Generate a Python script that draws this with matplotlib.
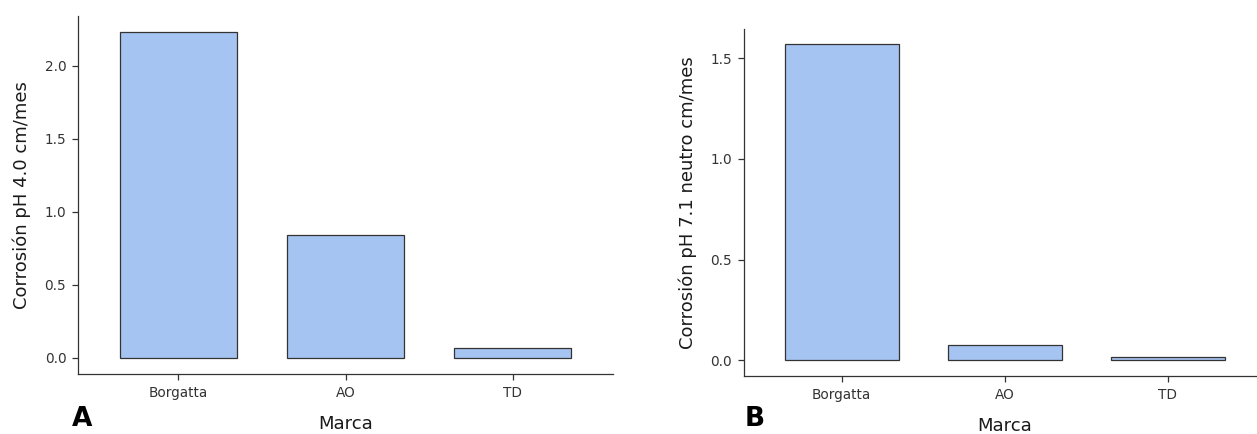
import numpy as np
import matplotlib
matplotlib.use("Agg")
import matplotlib.pyplot as plt

# datos
marcas = ["Borgatta", "AO", "TD"]
corrosion_ph4 = [2.231, 0.840, 0.066]
corrosion_ph7 = [1.569, 0.078, 0.016]

relleno = "#a6c4f1"
borde = "#333333"

plt.rcParams["font.family"] = "DejaVu Sans"

fig = plt.figure(figsize=(12.57, 4.34), dpi=100)

def panel(pos, valores, ylab, ticks, letra, xletra):
	ax = fig.add_axes(pos)
	x = np.arange(len(marcas))
	ax.bar(x, valores, width=0.7, color=relleno, edgecolor=borde, linewidth=0.9)
	m = max(valores)
	ax.set_ylim(-0.05 * m, 1.05 * m)
	ax.set_xlim(-0.6, len(marcas) - 0.4)
	ax.set_xticks(x)
	ax.set_xticklabels(marcas, fontsize=9.8, color="#333333")
	ax.set_yticks(ticks)
	ax.set_yticklabels(["%.1f" % t for t in ticks], fontsize=9.8, color="#333333")
	ax.tick_params(length=4.5, width=0.9, color=borde, pad=4)
	for s in ["top", "right"]:
		ax.spines[s].set_visible(False)
	for s in ["left", "bottom"]:
		ax.spines[s].set_color(borde)
		ax.spines[s].set_linewidth(0.9)
	ax.set_xlabel("Marca", fontsize=13, color="#1a1a1a", labelpad=11)
	ax.set_ylabel(ylab, fontsize=13, color="#1a1a1a", labelpad=9.5)
	fig.text(xletra, 0.004, letra, fontsize=19, fontweight="bold", ha="left", va="bottom")
	return ax

panel([0.0621, 0.1382, 0.4256, 0.8249], corrosion_ph4, "Corrosión pH 4.0 cm/mes",
	[0.0, 0.5, 1.0, 1.5, 2.0], "A", 0.0575)
panel([0.5917, 0.1336, 0.4151, 0.8003], corrosion_ph7, "Corrosión pH 7.1 neutro cm/mes",
	[0.0, 0.5, 1.0, 1.5], "B", 0.5925)

fig.savefig("out.png", dpi=100)
